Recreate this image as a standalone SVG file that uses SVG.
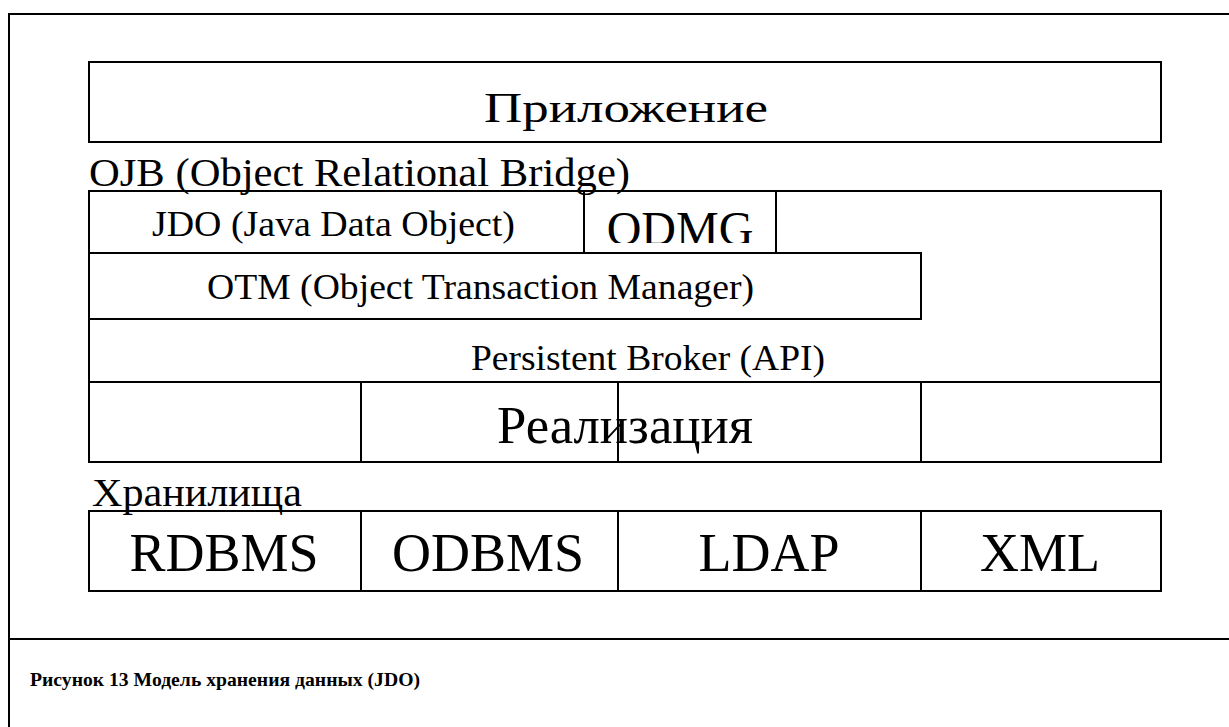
<svg xmlns="http://www.w3.org/2000/svg" width="1229" height="727" viewBox="0 0 1229 727">
<style>
.b{fill:none;stroke:#000;stroke-width:2}
.t{font-family:"Liberation Serif","Times New Roman",serif;fill:#000}
.m{text-anchor:middle}
</style>
<defs>
<clipPath id="odmgclip"><rect x="584" y="192" width="191" height="51"/></clipPath>
</defs>
<rect width="1229" height="727" fill="#fff"/>
<g id="frame">
<path class="b" d="M9,727 V14 H1229 M9,639 H1229"/>
</g>
<g id="app">
<rect class="b" x="89" y="62" width="1072" height="80"/>
<text class="t" x="484" y="122" font-size="43" textLength="284" lengthAdjust="spacingAndGlyphs">Приложение</text>
</g>
<g id="ojb">
<text class="t" x="89" y="186" font-size="40" textLength="541" lengthAdjust="spacingAndGlyphs">OJB (Object Relational Bridge)</text>
<rect class="b" x="89" y="191" width="1072" height="191"/>
</g>
<g id="jdo">
<rect class="b" x="89" y="191" width="495" height="62"/>
<text class="t" x="152" y="236" font-size="36" textLength="363" lengthAdjust="spacingAndGlyphs">JDO (Java Data Object)</text>
</g>
<g id="odmg">
<rect class="b" x="584" y="191" width="192" height="62"/>
<text class="t m" x="680" y="245" font-size="48" clip-path="url(#odmgclip)">ODMG</text>
</g>
<g id="otm">
<rect class="b" x="89" y="253" width="832" height="66"/>
<text class="t" x="207" y="299" font-size="36" textLength="547" lengthAdjust="spacingAndGlyphs">OTM (Object Transaction Manager)</text>
</g>
<g id="broker">
<text class="t" x="471" y="370" font-size="35" textLength="354" lengthAdjust="spacingAndGlyphs">Persistent Broker (API)</text>
</g>
<g id="impl">
<rect class="b" x="89" y="382" width="1072" height="80"/>
<path class="b" d="M361,382 V462 M618,382 V462 M921,382 V462"/>
<text class="t" x="497" y="443" font-size="53" textLength="256" lengthAdjust="spacingAndGlyphs">Реализация</text>
</g>
<g id="storage">
<text class="t" x="92" y="506" font-size="40" textLength="210" lengthAdjust="spacingAndGlyphs">Хранилища</text>
<rect class="b" x="89" y="511" width="1072" height="80"/>
<path class="b" d="M361,511 V591 M618,511 V591 M921,511 V591"/>
</g>
<g id="rdbms"><text class="t m" x="224" y="571" font-size="54">RDBMS</text></g>
<g id="odbms"><text class="t m" x="488" y="571" font-size="54">ODBMS</text></g>
<g id="ldap"><text class="t m" x="769" y="571" font-size="54">LDAP</text></g>
<g id="xml"><text class="t m" x="1040" y="571" font-size="54">XML</text></g>
<g id="connectors"></g>
<g id="caption">
<text class="t" x="30" y="686" font-size="19.5" font-weight="bold" textLength="390" lengthAdjust="spacingAndGlyphs">Рисунок 13 Модель хранения данных (JDO)</text>
</g>
</svg>
